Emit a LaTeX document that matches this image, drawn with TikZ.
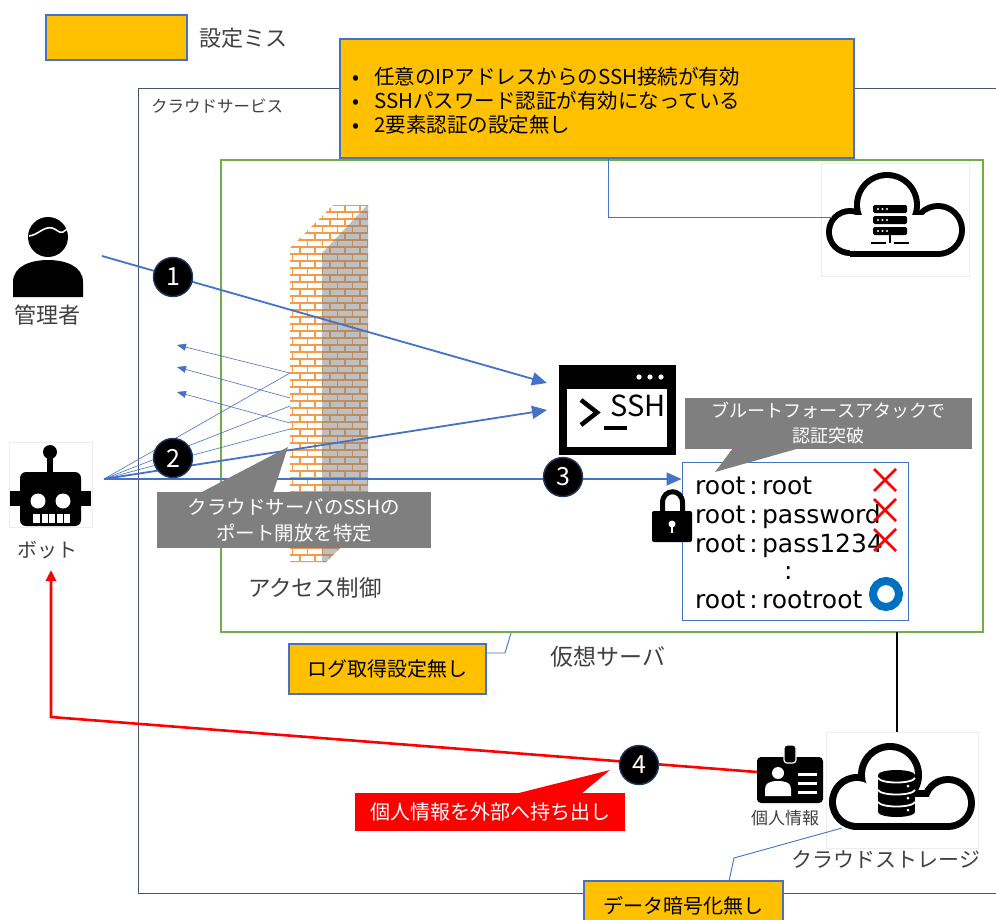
\documentclass[tikz,border=0pt]{standalone}
\usepackage{fontspec}
\setmainfont{Noto Sans CJK JP}
\newfontfamily\credfont{DejaVu Sans}
\usetikzlibrary{arrows.meta,positioning}

\definecolor{misyellow}{HTML}{FFC000}
\definecolor{misblue}{HTML}{4472C4}
\definecolor{frameslate}{HTML}{44546A}
\definecolor{vmgreen}{HTML}{70AD47}
\definecolor{notegray}{HTML}{7F7F7F}
\definecolor{labelgray}{HTML}{404040}
\definecolor{brick}{HTML}{F59A45}
\definecolor{okblue}{HTML}{0070C0}
\definecolor{numrim}{HTML}{203864}

\newcommand{\fsz}[1]{\fontsize{#1}{#1}\selectfont}

\begin{document}
\begin{tikzpicture}[x=1pt,y=-1pt,
    misbox/.style={draw=misblue,line width=1.2pt,fill=misyellow,inner sep=0pt},
    lbl/.style={text=labelgray,inner sep=0pt},
    flow/.style={draw=misblue,line width=1.8pt,-{Triangle[length=15pt,width=13pt]}},
    scan/.style={draw=misblue,line width=0.6pt},
    scanback/.style={scan,-{Triangle[length=9pt,width=7pt]}},
    exfil/.style={draw=red,line width=2.6pt,-{Triangle[length=11pt,width=10pt]}},
    leader/.style={draw=misblue,line width=0.9pt},
    num/.style={circle,fill=black,draw=numrim,line width=1.4pt,minimum size=39pt,
                inner sep=0pt,text=white,font=\fsz{25}},
    note/.style={fill=notegray,text=white,inner sep=0pt,align=center},
    iconframe/.style={draw=black!7,fill=white,line width=0.5pt,inner sep=0pt},
    credline/.style={anchor=base west,inner sep=0pt,font=\credfont\fsz{25}}]

  \useasboundingbox (0,0) rectangle (996,919);
  \fill[white] (0,0) rectangle (996,919);

  % legend
  \node[misbox,minimum width=141pt,minimum height=45pt] (legend) at (116.5,37.5) {};
  \node[lbl,font=\fsz{22},anchor=west] (legendtxt) at (199,38) {設定ミス};

  % cloud service frame, virtual server
  \draw[frameslate,line width=1pt] (1005,88) -- (138,88) -- (138,893) -- (1005,893);
  \node[lbl,font=\fsz{16.5},anchor=west] (cloudtxt) at (151,106) {クラウドサービス};
  \node[draw=vmgreen,line width=1.2pt,minimum width=762pt,minimum height=472pt,inner sep=0pt] (vm) at (602,396) {};
  \node[lbl,font=\fsz{23}] (vmtxt) at (608,657) {仮想サーバ};

  % cloud server icon
  \node[iconframe,minimum width=148pt,minimum height=113pt] (srv) at (895,219.5) {};
  \foreach \cx/\cy/\r in {850/232/24,887/205/33,938/230/27} \fill (\cx,\cy) circle (\r);
  \fill (850,215) rectangle (938,257);
  \foreach \cx/\cy/\r in {850/232/18,887/205/27,938/230/21} \fill[white] (\cx,\cy) circle (\r);
  \fill[white] (850,215) rectangle (938,251);
  \foreach \y in {205,216,227} {
    \fill[rounded corners=1.5pt] (873,\y) rectangle (907,\y+8);
    \foreach \x in {878,882.5,887} \fill[white] (\x,\y+4) circle (1.2);
  }
  \draw[line width=2.2pt] (890,235) -- (890,243) (871,243) -- (886,243) (894,243) -- (909,243);
  \coordinate (srvin) at (832,217);

  % settings callout
  \node[misbox,minimum width=514pt,minimum height=119pt] (sshcfg) at (597,98.5) {};
  \node[anchor=west,align=left,inner sep=0pt,font=\fontsize{20.5}{24}\selectfont] (sshcfgtxt) at (350,101)
    {\makebox[12pt][c]{•}\hspace{12pt}任意のIPアドレスからのSSH接続が有効\\
     \makebox[12pt][c]{•}\hspace{12pt}SSHパスワード認証が有効になっている\\
     \makebox[12pt][c]{•}\hspace{12pt}2要素認証の設定無し};
  \coordinate (cfgfoot) at (608,158);
  \draw[leader] (cfgfoot) |- (srvin);

  % administrator
  \fill (48,237) circle (20);
  \draw[white,line width=1.6pt] (29,236) .. controls (38,235) and (44,226) .. (52,228)
    .. controls (57,229) and (59,234) .. (63,232) .. controls (65,231) and (66,229) .. (68,229);
  \fill (13,297) -- (13,282) .. controls (13,266) and (31,260) .. (48,260)
    .. controls (65,260) and (83,266) .. (83,282) -- (83,297) -- cycle;
  \node[lbl,font=\fsz{22}] (admintxt) at (47,315) {管理者};

  % bot
  \node[iconframe,minimum width=83pt,minimum height=85pt] (botframe) at (50.5,484.5) {};
  \fill (50,452) circle (7);
  \fill (47,458) rectangle (53,474);
  \fill[rounded corners=6pt] (20,472) rectangle (81,526);
  \fill (10,491) rectangle (21,506);
  \fill (80,491) rectangle (91,506);
  \fill[white] (38,501) circle (7.5);
  \fill[white] (63,501) circle (7.5);
  \fill[white] (33,514) rectangle (70,522.5);
  \foreach \x in {40,47.5,55,62.5} \fill (\x,514) rectangle (\x+1.6,522.5);
  \node[lbl,font=\fsz{20}] (bottxt) at (47,550) {ボット};

  % brick wall
  \begin{scope}
    \clip (290,562) -- (290,248) -- (333,205) -- (368,205) -- (368,520) -- (326,562) -- cycle;
    \fill[white] (285,200) rectangle (372,566);
    \foreach \y in {205,212,...,562} \draw[brick,line width=1.3pt] (285,\y) -- (372,\y);
    \foreach \y in {205,219,...,562} {
      \foreach \x in {285,300,...,372} \draw[brick,line width=1.3pt] (\x,\y) -- (\x,\y+7);
      \foreach \x in {292.5,307.5,...,372} \draw[brick,line width=1.3pt] (\x,\y+7) -- (\x,\y+14);
    }
    \fill[gray,opacity=0.5] (322,566) -- (322,253) -- (372,200) -- (372,566) -- cycle;
  \end{scope}
  \node[lbl,font=\fsz{22.5}] (walltxt) at (315,588) {アクセス制御};

  % ssh terminal
  \node[fill=black,minimum width=117pt,minimum height=90pt,inner sep=0pt] (ssh) at (617.5,410) {};
  \fill[white] (567,389) rectangle (667,447);
  \foreach \x in {639,650,661} \fill[white] (\x,377) circle (2.6);
  \draw[line width=4.5pt] (581,400) -- (597,412.5) -- (581,425);
  \draw[line width=4.5pt] (604,428) -- (627,428);
  \node[anchor=base west,inner sep=0pt,font=\fsz{29}] (sshtxt) at (610,416) {SSH};

  % credential list
  \node[draw=misblue,line width=1pt,fill=white,minimum width=226pt,minimum height=158pt,inner sep=0pt] (cred) at (795,541) {};
  \node[credline] (pw1) at (695,494) {root\,:\,root};
  \node[credline] (pw2) at (695,523) {root\,:\,password};
  \node[credline] (pw3) at (695,552) {root\,:\,pass1234};
  \node[credline] (pwdots) at (784,579) {:};
  \node[credline] (pw4) at (695,608) {root\,:\,rootroot};
  \foreach \y in {480,510,540}
    \draw[red,line width=2.8pt] (874,\y-11) -- (896,\y+11) (874,\y+11) -- (896,\y-11);
  \draw[okblue,line width=8pt] (886,594) circle (13);

  % padlock
  \draw[line width=5pt] (662.5,512) -- (662.5,503) .. controls (662.5,488) and (682.5,488) .. (682.5,503) -- (682.5,512);
  \fill[rounded corners=2pt] (652,511) rectangle (692,542);
  \fill[white] (672,524) circle (3.5);
  \fill[white] (670.6,524) rectangle (673.4,533);

  % access attempts
  \coordinate (adminR) at (102,256);
  \coordinate (botR) at (104,479);
  \coordinate (sshA) at (547,383);
  \coordinate (sshB) at (547,410);
  \foreach \hy in {373,406,429} \draw[scan] (botR) -- (290,\hy);
  \foreach \hy/\ty in {373/345,398/367,423/392} \draw[scanback] (290,\hy) -- (177,\ty);
  \draw[flow] (adminR) -- (sshA);
  \draw[flow] (botR) -- (sshB);
  \draw[flow] (botR) -- (botR -| cred.west);

  % notes
  \fill[notegray] (200,493) -- (288,447) -- (273,493) -- cycle;
  \node[note,minimum width=274pt,minimum height=56pt,font=\fontsize{19.5}{26}\selectfont] (portnote) at (294,520)
    {クラウドサーバのSSHの\\ポート開放を特定};
  \fill[notegray] (733,448) -- (715,472) -- (800,448) -- cycle;
  \node[note,minimum width=287pt,minimum height=51pt,font=\fontsize{18}{25}\selectfont] (brutenote) at (828.5,423.5)
    {ブルートフォースアタックで\\認証突破};

  \node[misbox,minimum width=197pt,minimum height=50pt,font=\fsz{20}] (lognote) at (387.5,669) {ログ取得設定無し};
  \draw[leader] (lognote.east |- 0,653) -- (505,653) -- (511,633);

  % cloud storage icon
  \node[iconframe,minimum width=152pt,minimum height=116pt] (store) at (902,790) {};
  \coordinate (vmfoot) at (897,632);
  \draw[line width=2pt] (vmfoot) -- (vmfoot |- store.north);
  \foreach \cx/\cy/\r in {857/802/28,890/775/32,948/803/27} \fill (\cx,\cy) circle (\r);
  \fill (857,790) rectangle (948,830);
  \foreach \cx/\cy/\r in {857/802/21,890/775/25,948/803/20} \fill[white] (\cx,\cy) circle (\r);
  \fill[white] (857,797) rectangle (948,823);
  \fill (878,775) rectangle (915,812);
  \fill (896.5,775) ellipse (18.5 and 5);
  \fill (896.5,812) ellipse (18.5 and 5);
  \foreach \y in {778,790,802}
    \draw[white,line width=1.8pt] (878,\y) .. controls (881,\y+6) and (912,\y+6) .. (915,\y);
  \foreach \y in {786,798,810} \fill[white] (908,\y) circle (1.5);
  \node[lbl,font=\fsz{21}] (storetxt) at (886,859) {クラウドストレージ};

  % personal data badge
  \fill[rounded corners=4pt] (757,757) rectangle (823,803);
  \fill[draw=white,line width=1.2pt,rounded corners=3pt] (784,745) rectangle (796,763);
  \fill[white] (778,773) circle (6);
  \fill[white] (765,796) -- (765,789) .. controls (765,783) and (770,781) .. (778,781)
    .. controls (786,781) and (791,783) .. (791,789) -- (791,796) -- cycle;
  \foreach \y in {774,783,792} \draw[white,line width=3pt] (798,\y) -- (817,\y);
  \node[lbl,font=\fsz{17}] (badgetxt) at (785,818) {個人情報};

  % data taken out
  \coordinate (badgeL) at (757,772);
  \coordinate (exbend) at (51,717);
  \coordinate (botfoot) at (51,570);
  \draw[exfil] (badgeL) -- (exbend) -- (botfoot);
  \fill[red] (515,794) -- (610,770) -- (581,794) -- cycle;
  \node[fill=red,text=white,inner sep=0pt,minimum width=270pt,minimum height=38pt,font=\fsz{20}] (exnote) at (490,812)
    {個人情報を外部へ持ち出し};

  \node[misbox,minimum width=199pt,minimum height=50pt,font=\fsz{20}] (datanote) at (683.5,906) {データ暗号化無し};
  \draw[leader] (729,881) -- (734,858) -- (842,828);

  % step numbers
  \node[num] (n1) at (173,277) {1};
  \node[num] (n2) at (173,458) {2};
  \node[num] (n3) at (563,477) {3};
  \node[num] (n4) at (639,765) {4};
\end{tikzpicture}
\end{document}
